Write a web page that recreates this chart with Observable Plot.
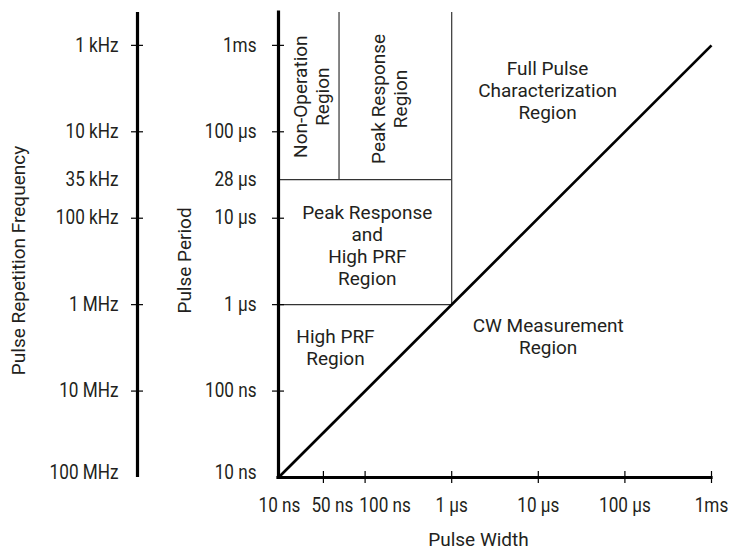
<!DOCTYPE html>
<html>
<head>
<meta charset="utf-8">
<script src="https://cdn.jsdelivr.net/npm/d3@7"></script>
<script src="https://cdn.jsdelivr.net/npm/@observablehq/plot@0.6"></script>
<style>
  html, body { margin: 0; padding: 0; background: #fff; }
</style>
</head>
<body>
<div id="chart"></div>
<script>
// ---- Data (seconds) ----
const periodDomain = [1e-8, 2.4e-3];          // pulse period axis extent
const widthDomain = [1e-8, 1e-3];             // pulse width axis extent

// Pulse period axis ticks (with tick marks) and labels
const periodTicks = [1e-3, 1e-4, 1e-5, 1e-6, 1e-7];
const periodTickLabels = ["1ms", "100 μs", "10 μs", "1 μs", "100 ns"];
// Pulse repetition frequency labels at the same positions
const prfTickLabels = ["1 kHz", "10 kHz", "100 kHz", "1 MHz", "10 MHz"];

// Labels without tick marks
const extraPeriods = [28e-6];
const extraPeriodLabels = ["28 μs"];
const extraPrfLabels = ["35 kHz"];
const bottomPeriodLabel = ["10 ns"];
const bottomPrfLabel = ["100 MHz"];

// Pulse width axis ticks (the "50 ns" tick sits where the original places it)
const widthTicks = [3.3e-8, 1e-7, 1e-6, 1e-5, 1e-4, 1e-3];
const widthTickLabels = ["50 ns", "100 ns", "1 μs", "10 μs", "100 μs", "1ms"];
const originWidthLabel = ["10 ns"];

// Region boundaries
const hBoundaries = [
  {y: 1e-6, x1: 1e-8, x2: 1e-6},
  {y: 28e-6, x1: 1e-8, x2: 1e-6}
];
const vBoundaries = [
  {x: 1e-6, y1: 1e-6, y2: 2.4e-3},
  {x: 5e-8, y1: 28e-6, y2: 2.4e-3}
];
// CW boundary: pulse width = pulse period
const cwBoundary = [
  {w: 1e-8, p: 1e-8},
  {w: 1e-3, p: 1e-3}
];

// Region labels (positions in seconds)
const regionLabels = [
  {w: 2.35e-8, p: 2.55e-4, text: "Non-Operation\nRegion", rotate: -90},
  {w: 1.9e-7, p: 2.4e-4, text: "Peak Response\nRegion", rotate: -90},
  {w: 1.06e-7, p: 4.9e-6, text: "Peak Response\nand\nHigh PRF\nRegion", rotate: 0},
  {w: 4.55e-8, p: 3.2e-7, text: "High PRF\nRegion", rotate: 0},
  {w: 1.3e-5, p: 4.3e-7, text: "CW Measurement\nRegion", rotate: 0},
  {w: 1.28e-5, p: 3.05e-4, text: "Full Pulse\nCharacterization\nRegion", rotate: 0}
];

const titles = {
  prf: "Pulse Repetition Frequency",
  period: "Pulse Period",
  width: "Pulse Width"
};

// ---- Styling ----
const ink = "#231f20";
const tickFontSize = 19.5;   // tick labels (narrowed horizontally below)
// crowded labels near the origin are nudged right, as in the original
const widthLabelNudge = {"50 ns": 9, "100 ns": 20};

const tickText = (data, opts) => Plot.text(data, {fontSize: tickFontSize, fill: ink, ...opts});

const widthLabelMarks = widthTicks.map((v, i) =>
  tickText([v], {x: d => d, text: () => widthTickLabels[i], frameAnchor: "bottom", textAnchor: "middle", lineAnchor: "top", dy: 21, dx: widthLabelNudge[widthTickLabels[i]] || 0})
);

const chart = Plot.plot({
  width: 729,
  height: 552,
  marginLeft: 278,
  marginRight: 18,
  marginTop: 12,
  marginBottom: 75,
  style: {fontFamily: "Roboto, 'Liberation Sans', sans-serif", fontSize: "19px", color: ink, background: "#fff", overflow: "visible"},
  x: {type: "log", domain: widthDomain, label: null},
  y: {type: "log", domain: periodDomain, label: null},
  marks: [
    // region boundaries
    Plot.ruleY(hBoundaries, {y: "y", x1: "x1", x2: "x2", stroke: "#333", strokeWidth: 1.2}),
    Plot.ruleX(vBoundaries, {x: "x", y1: "y1", y2: "y2", stroke: "#333", strokeWidth: 1.2}),
    // diagonal
    Plot.line(cwBoundary, {x: "w", y: "p", stroke: "#000", strokeWidth: 2.7, strokeLinecap: "butt"}),
    // main axes lines
    Plot.ruleX([widthDomain[0]], {stroke: "#000", strokeWidth: 3.2, strokeLinecap: "square"}),
    Plot.ruleY([periodDomain[0]], {stroke: "#000", strokeWidth: 3.2, strokeLinecap: "square"}),
    // PRF axis line
    Plot.ruleX([widthDomain[0]], {dx: -141, stroke: "#000", strokeWidth: 3.2}),
    // tick marks (period axis, PRF axis, width axis)
    Plot.axisY(periodTicks, {anchor: "left", tickSize: 12, dx: 6, fill: "none", strokeWidth: 1.2, stroke: "#000", label: null}),
    Plot.axisY(periodTicks, {anchor: "left", tickSize: 12, dx: -135, fill: "none", strokeWidth: 1.2, stroke: "#000", label: null}),
    Plot.axisX(widthTicks, {anchor: "bottom", tickSize: 12, dy: -6, fill: "none", strokeWidth: 1.2, stroke: "#000", label: null}),
    // period tick labels
    tickText(periodTicks, {y: d => d, text: (d, i) => periodTickLabels[i], frameAnchor: "left", textAnchor: "end", dx: -22}),
    tickText(extraPeriods, {y: d => d, text: (d, i) => extraPeriodLabels[i], frameAnchor: "left", textAnchor: "end", dx: -22}),
    tickText(bottomPeriodLabel, {y: () => periodDomain[0], text: d => d, frameAnchor: "left", textAnchor: "end", dx: -22, dy: -5}),
    // PRF tick labels
    tickText(periodTicks, {y: d => d, text: (d, i) => prfTickLabels[i], frameAnchor: "left", textAnchor: "end", dx: -160}),
    tickText(extraPeriods, {y: d => d, text: (d, i) => extraPrfLabels[i], frameAnchor: "left", textAnchor: "end", dx: -160}),
    tickText(bottomPrfLabel, {y: () => periodDomain[0], text: d => d, frameAnchor: "left", textAnchor: "end", dx: -160, dy: -5}),
    // width tick labels
    ...widthLabelMarks,
    tickText(originWidthLabel, {x: () => widthDomain[0], text: d => d, frameAnchor: "bottom", textAnchor: "middle", lineAnchor: "top", dy: 21, dx: 1}),
    // region labels
    Plot.text(regionLabels, {x: "w", y: "p", text: "text", rotate: "rotate", textAnchor: "middle", lineAnchor: "middle", lineHeight: 1.15, fontSize: 19, fill: ink}),
    // axis titles
    Plot.text([titles.prf], {text: d => d, frameAnchor: "left", textAnchor: "middle", lineAnchor: "middle", rotate: -90, dx: -260, dy: 15.5, fontSize: 19, fill: ink}),
    Plot.text([titles.period], {text: d => d, frameAnchor: "left", textAnchor: "middle", lineAnchor: "middle", rotate: -90, dx: -94, dy: 15.5, fontSize: 19, fill: ink}),
    Plot.text([titles.width], {text: d => d, frameAnchor: "bottom", textAnchor: "middle", lineAnchor: "middle", dx: -16.5, dy: 62, fontSize: 19, fill: ink})
  ]
});

// Tick labels in the original use a condensed face: narrow them horizontally.
d3.select(chart).selectAll(`g[font-size="${tickFontSize}"] text`).each(function() {
  const t = this.getAttribute("transform") || "";
  this.setAttribute("transform", `${t} scale(0.88,1)`);
});

document.getElementById("chart").appendChild(chart);
</script>
</body>
</html>
